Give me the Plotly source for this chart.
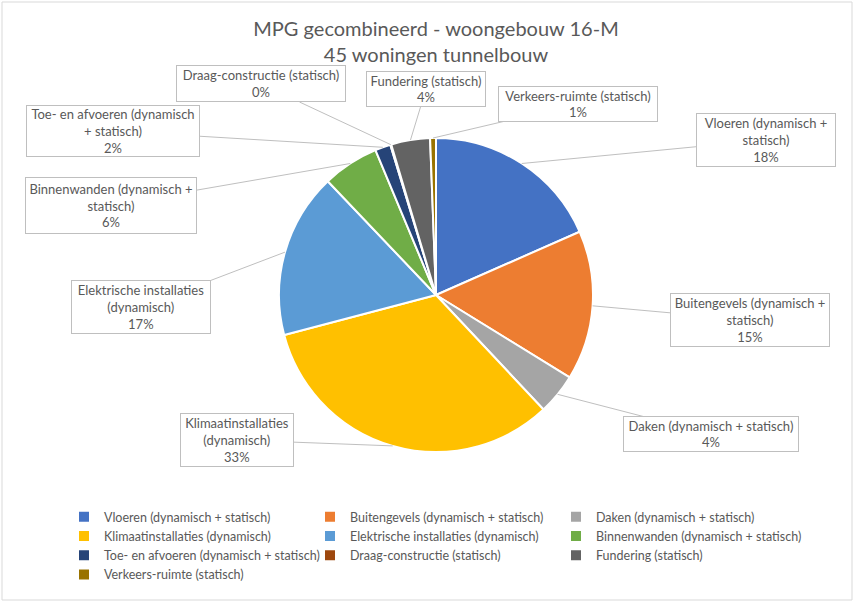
import math
import plotly.graph_objects as go

W, H = 855, 603

# slices, clockwise from 12 o'clock
labels = [
    "Vloeren (dynamisch + statisch)",
    "Buitengevels (dynamisch + statisch)",
    "Daken (dynamisch + statisch)",
    "Klimaatinstallaties (dynamisch)",
    "Elektrische installaties (dynamisch)",
    "Binnenwanden (dynamisch + statisch)",
    "Toe- en afvoeren (dynamisch + statisch)",
    "Draag-constructie (statisch)",
    "Fundering (statisch)",
    "Verkeers-ruimte (statisch)",
]
values = [18.4, 15.4, 4.2, 32.9, 17.0, 5.8, 1.6, 0.1, 4.0, 0.6]
colors = ["#4472C4", "#ED7D31", "#A5A5A5", "#FFC000", "#5B9BD5",
          "#70AD47", "#264478", "#9E480E", "#636363", "#997300"]

# wrapped label text for the callouts
callout_names = [
    "Vloeren (dynamisch +<br>statisch)",
    "Buitengevels (dynamisch +<br>statisch)",
    "Daken (dynamisch + statisch)",
    "Klimaatinstallaties<br>(dynamisch)",
    "Elektrische installaties<br>(dynamisch)",
    "Binnenwanden (dynamisch +<br>statisch)",
    "Toe- en afvoeren (dynamisch<br>+ statisch)",
    "Draag-constructie (statisch)",
    "Fundering (statisch)",
    "Verkeers-ruimte (statisch)",
]

# callout boxes: centre x, centre y, width, height (pixels)
boxes = [
    (766, 140, 140, 54),
    (750, 320, 160, 54),
    (711, 434, 176, 36),
    (237, 440, 114, 54),
    (141, 307, 140, 54),
    (111, 205, 172, 57),
    (113, 131, 174, 52),
    (261, 84, 170, 37),
    (426, 89, 120, 36),
    (578, 104, 160, 36),
]

# pie geometry in pixels
CX, CY, R = 436, 295, 157

TXT = "#595959"
FONT = "Lato"

fig = go.Figure(go.Pie(
    labels=labels,
    values=values,
    sort=False,
    direction="clockwise",
    rotation=0,
    marker=dict(colors=colors, line=dict(color="white", width=2)),
    textinfo="none",
    hoverinfo="label+percent",
    domain=dict(x=[(CX - R) / W, (CX + R) / W], y=[1 - (CY + R) / H, 1 - (CY - R) / H]),
))

total = sum(values)
annotations = []
cum = 0.0
for name, v, (bx, by, bw, bh) in zip(callout_names, values, boxes):
    mid = (cum + v / 2) / total
    cum += v
    ang = 2 * math.pi * mid
    tx = CX + R * math.sin(ang)
    ty = CY - R * math.cos(ang)
    pct = round(100 * v / total)
    annotations.append(dict(
        x=tx / W, y=1 - ty / H, xref="paper", yref="paper",
        axref="pixel", ayref="pixel", ax=bx - tx, ay=by - ty,
        text=f"{name}<br>{pct}%",
        showarrow=True, arrowhead=0, arrowwidth=1, arrowcolor="#BFBFBF", standoff=0,
        width=bw - 6, height=bh - 6, align="center", valign="middle",
        bgcolor="white", bordercolor="#BFBFBF", borderwidth=1, borderpad=2,
        font=dict(family=FONT, size=13, color=TXT),
    ))

fig.update_layout(
    width=W, height=H,
    margin=dict(l=0, r=0, t=0, b=0),
    paper_bgcolor="white",
    font=dict(family=FONT, color=TXT),
    title=dict(
        text="MPG gecombineerd - woongebouw 16-M<br>45 woningen tunnelbouw",
        x=436 / W, xanchor="center", y=1 - 36 / H, yanchor="top",
        font=dict(family=FONT, size=20, color=TXT),
    ),
    showlegend=True,
    legend=dict(
        orientation="h", x=64 / W, xanchor="left", y=1 - 502 / H, yanchor="top",
        entrywidth=201, entrywidthmode="pixels",
        font=dict(family=FONT, size=12.5, color=TXT),
        traceorder="normal",
    ),
    annotations=annotations,
    shapes=[dict(type="rect", xref="paper", yref="paper",
                 x0=2 / W, x1=852 / W, y0=1 - 600 / H, y1=1 - 2 / H,
                 line=dict(color="#D9D9D9", width=1))],
)

fig.write_html("out.html", config={"displayModeBar": False},
               post_script="document.body.style.margin='0';")
